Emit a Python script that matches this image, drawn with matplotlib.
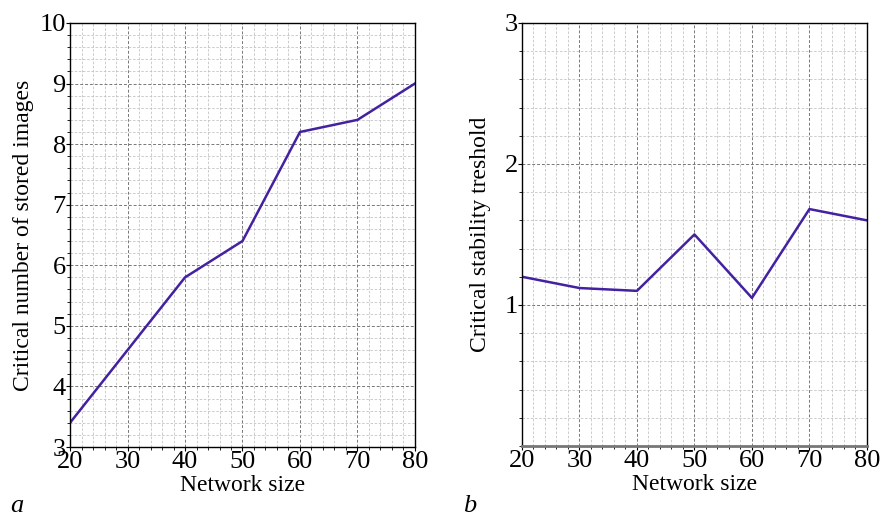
import matplotlib
matplotlib.use('Agg')
import matplotlib.pyplot as plt
from matplotlib.ticker import MultipleLocator

# Данные
network_size = [20, 30, 40, 50, 60, 70, 80]
stored_images = [3.4, 4.6, 5.8, 6.4, 8.2, 8.4, 9.0]
stability = [1.2, 1.12, 1.1, 1.5, 1.05, 1.68, 1.6]

plt.rcParams['font.family'] = ['Liberation Serif', 'DejaVu Serif']
line_color = '#4321a0'

fig = plt.figure(figsize=(8.81, 5.21), dpi=100)
ax1 = fig.add_axes([0.0795, 0.142, 0.3915, 0.814])
ax2 = fig.add_axes([0.5925, 0.144, 0.3915, 0.812])


def style_axes(ax):
    ax.xaxis.set_major_locator(MultipleLocator(10))
    ax.xaxis.set_minor_locator(MultipleLocator(2))
    ax.yaxis.set_major_locator(MultipleLocator(1))
    ax.yaxis.set_minor_locator(MultipleLocator(0.2))
    ax.grid(True, which='major', color='#777777', linestyle=(0, (3, 2)), linewidth=0.7)
    ax.grid(True, which='minor', color='#c4c4c4', linestyle=(0, (3, 2)), linewidth=0.6)
    ax.set_axisbelow(True)
    ax.tick_params(which='major', direction='out', length=3, width=0.8, labelsize=19, pad=0)
    ax.tick_params(which='minor', direction='out', length=2, width=0.6)
    for s in ax.spines.values():
        s.set_linewidth(1.0)
        s.set_color('black')
    ax.set_xlabel('Network size', fontsize=17, labelpad=1)


ax1.plot(network_size, stored_images, color=line_color, linewidth=1.8)
ax1.set_xlim(20, 80)
ax1.set_ylim(3, 10)
style_axes(ax1)
ax1.set_ylabel('Critical number of stored images', fontsize=17, labelpad=4)

ax2.plot(network_size, stability, color=line_color, linewidth=1.8)
ax2.set_xlim(20, 80)
ax2.set_ylim(0, 3)
style_axes(ax2)
ax2.set_yticks([1, 2, 3])
ax2.spines['bottom'].set_color('#777777')
ax2.spines['bottom'].set_linewidth(2)
ax2.set_ylabel('Critical stability treshold', fontsize=17, labelpad=10)

fig.text(0.012, 0.018, 'a', fontsize=19, style='italic')
fig.text(0.525, 0.018, 'b', fontsize=19, style='italic')

fig.savefig('out.png', dpi=100)
